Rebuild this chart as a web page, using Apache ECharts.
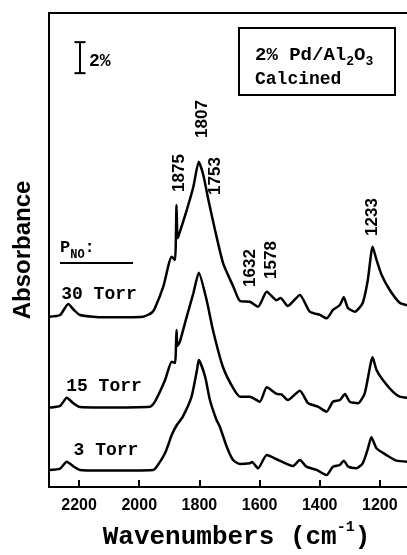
<!DOCTYPE html>
<html><head><meta charset="utf-8">
<script src="https://cdn.jsdelivr.net/npm/echarts/dist/echarts.min.js"></script>
<style>html,body{margin:0;padding:0;background:#fff}#c{width:407px;height:555px}</style>
</head><body><div id="c"></div>
<script>
// Wavenumbers (cm-1) and absorbance (%, including vertical offset of each trace)
const wn30 = [2300,2263,2236,2217,2197,2130,1987,1958,1948,1920,1892,1881,1876,1873,1870,1842,1820,1802,1787,1770,1748,1721,1687,1665,1632,1605,1576,1543,1530,1506,1466,1433,1399,1377,1356,1333,1320,1306,1283,1257,1240,1224,1211,1194,1167,1134,1100];
const abs30 = [10.99,11.10,11.81,11.42,11.10,10.95,10.99,11.25,11.53,12.92,14.86,14.65,18.19,16.06,16.15,17.87,19.37,20.99,20.13,18.52,16.58,14.43,12.92,12.00,11.95,11.63,12.60,12.05,12.20,11.68,12.39,11.31,11.10,10.88,11.42,11.74,12.24,11.55,11.31,11.87,13.35,15.50,14.65,13.68,12.71,11.89,11.68];
const wn15 = [2300,2263,2241,2220,2197,2130,1964,1948,1914,1892,1881,1876,1873,1865,1842,1820,1802,1776,1755,1722,1688,1665,1632,1599,1576,1543,1527,1506,1466,1439,1406,1377,1356,1333,1316,1300,1273,1250,1224,1211,1190,1157,1134,1100];
const abs15 = [5.12,5.23,5.76,5.42,5.16,5.13,5.18,5.50,6.90,8.08,8.00,10.13,9.10,9.37,10.99,12.50,13.83,12.06,10.13,7.76,6.39,5.83,5.83,5.50,6.43,6.00,5.97,5.61,6.21,5.42,5.18,4.86,5.50,5.61,6.00,5.50,5.40,6.06,8.37,7.55,6.90,6.15,5.83,5.74];
const wn3 = [2300,2263,2241,2220,2197,2130,1954,1942,1914,1892,1875,1855,1826,1808,1802,1781,1765,1743,1732,1709,1688,1665,1632,1625,1605,1576,1543,1489,1466,1444,1410,1377,1356,1333,1320,1305,1278,1257,1241,1228,1211,1178,1145,1100];
const abs3 = [1.10,1.19,1.63,1.35,1.10,1.06,1.10,1.31,2.19,3.35,4.00,4.54,5.83,7.55,8.19,7.12,5.61,4.32,3.89,2.60,1.74,1.48,1.53,1.61,1.21,2.06,1.79,1.35,1.74,1.31,1.10,0.77,1.31,1.42,1.70,1.31,1.21,1.53,2.39,3.21,2.50,2.06,1.70,1.63];
const traceNames = ['30 Torr','15 Torr','3 Torr'];
const xTicks = [2200,2000,1800,1600,1400,1200];
const peakLabels = ['1807','1875','1753','1632','1578','1233'];
const scaleBarWn = 2197, scaleBar = [26.7, 28.7];

const zip = (a,b) => a.map((v,i)=>[v,b[i]]);
const chart = echarts.init(document.getElementById('c'), null, {renderer:'canvas'});
const lineStyle = {color:'#000', width:2.5};
const mono = 'Liberation Mono', sans = 'Liberation Sans';
const rot = (t, x, y) => ({type:'text', x, y, rotation: Math.PI/2,
  style:{text:t, font:'bold 17px "Liberation Sans"', fill:'#000', align:'center', verticalAlign:'middle'}});
chart.setOption({
  animation:false,
  backgroundColor:'#fff',
  grid:{left:49, top:13, width:391, height:474, show:true, borderColor:'#000', borderWidth:2,
    containLabel:false, outerBoundsMode:'none'},
  xAxis:{type:'value', inverse:true, min:1000, max:2300, interval:200,
    axisLine:{lineStyle:{color:'#000', width:2}},
    axisTick:{inside:true, length:7, lineStyle:{color:'#000', width:2}},
    axisLabel:{showMaxLabel:false, color:'#000', fontFamily:sans, fontWeight:'bold', fontSize:16, margin:11,
      formatter:v => xTicks.includes(v) ? String(v) : ''},
    splitLine:{show:false},
    name:'{m|Wavenumbers (cm}{s|-1}{m|)}', nameLocation:'middle', nameGap:33,
    nameTextStyle:{padding:[0,16,0,0], rich:{
      m:{fontFamily:mono, fontWeight:'bold', fontSize:26, color:'#000', lineHeight:30, verticalAlign:'bottom'},
      s:{fontFamily:mono, fontWeight:'bold', fontSize:15, color:'#000', lineHeight:30, verticalAlign:'top'}}}
  },
  yAxis:{type:'value', min:0, max:30.58,
    axisLine:{show:true, lineStyle:{color:'#000', width:2}}, axisTick:{show:false}, axisLabel:{show:false}, splitLine:{show:false},
    name:'Absorbance', nameLocation:'middle', nameGap:14,
    nameTextStyle:{fontFamily:sans, fontWeight:'bold', fontSize:24, color:'#000'}
  },
  series:[
    {name:traceNames[0], type:'line', data:zip(wn30,abs30), showSymbol:false, smooth:0.2, lineStyle},
    {name:traceNames[1], type:'line', data:zip(wn15,abs15), showSymbol:false, smooth:0.2, lineStyle},
    {name:traceNames[2], type:'line', data:zip(wn3,abs3), showSymbol:false, smooth:0.2, lineStyle},
    {name:'2%', type:'line', data:[[scaleBarWn,scaleBar[0]],[scaleBarWn,scaleBar[1]]], symbol:'rect', symbolSize:[11,2],
      itemStyle:{color:'#000'}, lineStyle:{color:'#000', width:2}}
  ],
  graphic:[
    {type:'rect', shape:{x:239, y:28, width:156, height:67}, style:{fill:'#fff', stroke:'#000', lineWidth:2}},
    {type:'text', x:255, y:57, style:{text:'{m|2% Pd/Al}{s|2}{m|O}{s|3}', fill:'#000', verticalAlign:'middle',
      rich:{m:{font:'bold 19px "Liberation Mono"', lineHeight:22, verticalAlign:'top'},
            s:{font:'bold 13px "Liberation Mono"', lineHeight:22, verticalAlign:'bottom'}}}},
    {type:'text', x:255, y:79, style:{text:'Calcined', font:'bold 18px "Liberation Mono"', fill:'#000', verticalAlign:'middle'}},
    {type:'text', x:89, y:61, style:{text:'2%', font:'bold 18px "Liberation Mono"', fill:'#000', verticalAlign:'middle'}},
    {type:'text', x:60, y:250, style:{text:'{m|P}{s|NO}{m|:}', fill:'#000', verticalAlign:'middle',
      rich:{m:{font:'bold 17px "Liberation Mono"', lineHeight:22, verticalAlign:'top'},
            s:{font:'bold 12px "Liberation Mono"', lineHeight:22, verticalAlign:'bottom'}}}},
    {type:'line', shape:{x1:60, y1:263, x2:133, y2:263}, style:{stroke:'#000', lineWidth:2}},
    {type:'text', x:99, y:294, style:{text:traceNames[0], font:'bold 18px "Liberation Mono"', fill:'#000', align:'center', verticalAlign:'middle'}},
    {type:'text', x:104, y:386, style:{text:traceNames[1], font:'bold 18px "Liberation Mono"', fill:'#000', align:'center', verticalAlign:'middle'}},
    {type:'text', x:106, y:450, style:{text:traceNames[2], font:'bold 18px "Liberation Mono"', fill:'#000', align:'center', verticalAlign:'middle'}},
    rot(peakLabels[0], 202, 119), rot(peakLabels[1], 179, 173), rot(peakLabels[2], 215, 176),
    rot(peakLabels[3], 250, 268), rot(peakLabels[4], 271, 260), rot(peakLabels[5], 372, 217)
  ]
});
</script></body></html>
